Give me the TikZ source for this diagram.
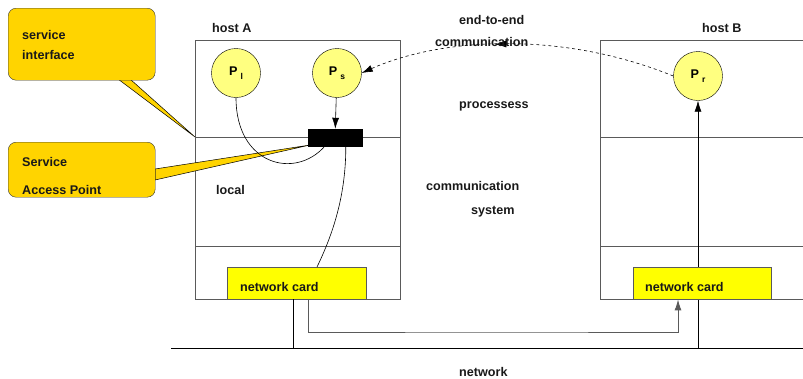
\documentclass[tikz,border=0pt]{standalone}
\usepackage{fontspec}
\setmainfont{Liberation Sans}
\usetikzlibrary{arrows.meta,decorations.markings,calc}
\definecolor{callout}{RGB}{255,212,0}
\definecolor{proc}{RGB}{255,255,128}
\definecolor{cardc}{RGB}{255,255,0}
\definecolor{boxline}{RGB}{90,90,90}
\tikzset{
  lbl/.style={anchor=base west, inner sep=0pt, font=\fontsize{12.6}{15}\selectfont\bfseries, text=black!90},
  procnode/.style={circle, draw=black, fill=proc, minimum size=49pt, inner sep=0pt, font=\fontsize{12.6}{15}\selectfont\bfseries},
  cardnode/.style={draw=boxline, fill=cardc, anchor=north west, inner sep=0pt},
  calloutbox/.style={draw=black!80, fill=callout, rounded corners=8pt, anchor=north west, inner sep=0pt},
  wedge/.style={draw=black, fill=callout, line width=0.5pt},
  hostline/.style={draw=boxline, line width=0.8pt},
  arr/.style={-{Latex[length=11pt,width=7pt]}, line width=0.6pt},
  midarr/.style={postaction={decorate}, decoration={markings, mark=at position 0.57 with {\arrow{Latex[length=11pt,width=7pt]}}}},
}
\newcommand{\Psub}[1]{P\hspace{3pt}\raisebox{-3.5pt}{\fontsize{8.5}{9}\selectfont #1}}
\begin{document}
\begin{tikzpicture}[x=1pt,y=-1pt]
\useasboundingbox (0,0) rectangle (803,378);

% host A box
\draw[hostline] (195,40) rectangle (400,299);
\draw[hostline] (195,137) -- (400,137);
\draw[hostline] (195,246) -- (400,246);
% host B box (open to the right)
\draw[hostline] (803,40) -- (600,40) -- (600,299) -- (803,299);
\draw[hostline] (600,137) -- (803,137);
\draw[hostline] (600,246) -- (803,246);

% network line
\coordinate (netL) at (171,348);
\coordinate (netR) at (803,348);
\draw[line width=0.8pt] (netL) -- (netR);

% callout pointers
\coordinate (siTip) at (195,137);
\coordinate (sapTip) at (310,145);
\draw[wedge] (118,79) -- (siTip) -- (130,79) -- cycle;
\draw[wedge] (155,169) -- (sapTip) -- (155,180) -- cycle;

% callout boxes
\node[calloutbox, minimum width=147pt, minimum height=72pt] (si) at (8,8) {};
\node[calloutbox, minimum width=147pt, minimum height=55pt] (sapc) at (8,142) {};
\node[lbl] (siT1) at (22,39) {service};
\node[lbl] (siT2) at (22,59) {interface};
\node[lbl] (sapT1) at (22,166) {Service};
\node[lbl] (sapT2) at (22,194) {Access Point};

% processes
\node[procnode] (Pl) at (236,73) {\Psub{l}};
\node[procnode] (Ps) at (337,73) {\Psub{s}};
\node[procnode] (Pr) at (698,76) {\Psub{r}};

% network -> P_r (drawn below the card)
\coordinate (netB) at (698,348);
\draw[arr] (netB) -- (Pr);

% service access point
\node[fill=black, draw=black, minimum width=54pt, minimum height=17pt, inner sep=0pt] (sap) at (335,137.5) {};

% network cards
\node[cardnode, minimum width=139pt, minimum height=32pt] (cardA) at (227,267) {};
\node[cardnode, minimum width=138pt, minimum height=32pt] (cardB) at (633,267) {};
\node[lbl] (cardAT) at (240,291) {network card};
\node[lbl] (cardBT) at (645,291) {network card};

% connectors
\draw[arr] (Ps) -- (sap);
\draw[line width=0.6pt] (Pl.south) .. controls (236,165) and (295,180) .. ([xshift=17pt]sap.south west);
\draw[line width=0.6pt] ([xshift=38pt]sap.south west) .. controls (346,200) and (330,240) .. ([xshift=90pt]cardA.north west);
\coordinate (netA) at (293,348);
\draw[line width=0.8pt] ([xshift=66pt]cardA.south west) -- (netA);
\coordinate (via) at (500,332);
\draw[arr, draw=boxline, line width=0.9pt] ([xshift=81pt]cardA.south west) |- (via) -| ([xshift=45pt]cardB.south west);
\draw[dashed, line width=0.6pt, midarr, -{Latex[length=11pt,width=7pt]}] (Pr.west) .. controls (560,30) and (440,38) .. (Ps.east);

% labels
\node[lbl] (hostA) at (212,32) {host A};
\node[lbl] (hostB) at (702,32) {host B};
\node[lbl] (e2e1) at (459,24) {end-to-end};
\node[lbl] (e2e2) at (435,46) {communication};
\node[lbl] (procs) at (459,108) {processess};
\node[lbl] (local) at (216,194) {local};
\node[lbl] (cs1) at (426,190) {communication};
\node[lbl] (cs2) at (471,214) {system};
\node[lbl] (net) at (459,376) {network};
\end{tikzpicture}
\end{document}
